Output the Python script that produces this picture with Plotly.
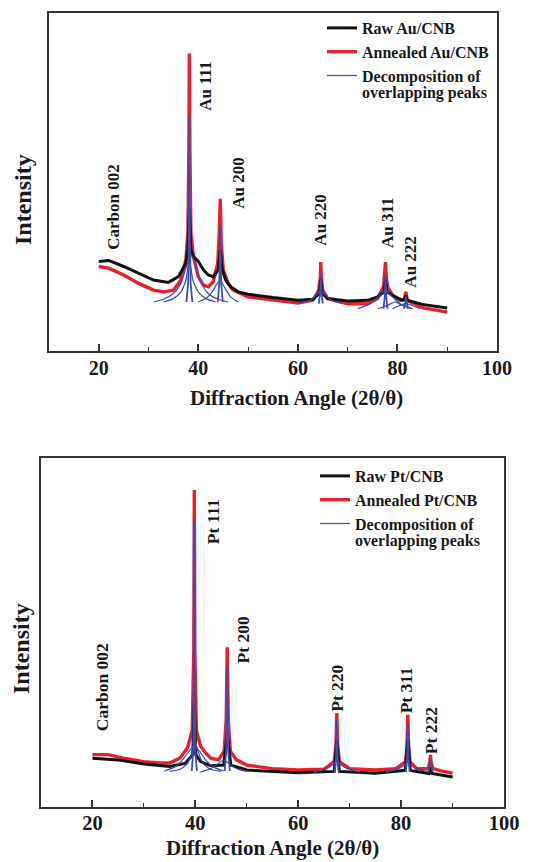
import plotly.graph_objects as go

# ---------------- Data: top panel (Au/CNB) ----------------
au_raw_x = [20, 22, 25, 28, 31, 34, 36, 37.5, 37.9, 38.2, 38.5, 39, 40, 41, 42, 43, 44, 44.4, 44.8,
            45.5, 46.5, 48, 50, 55, 60, 63, 64.3, 64.6, 64.9, 66, 70, 74, 76, 77.3, 77.6, 77.9, 79, 81,
            81.5, 81.7, 81.9, 82.5, 85, 90]
au_raw_y = [26.5, 26.8, 25, 23, 21, 20.3, 22, 26, 30, 42, 30, 28, 26.5, 24, 22.5, 22, 24, 30, 24,
            21, 19, 17.5, 16.8, 15.8, 15, 15.3, 17, 21, 17, 15.5, 14.8, 15, 16, 17.5, 21, 17.5, 16.5, 15,
            15.2, 16.5, 15.2, 14.8, 13.8, 12.7]

au_ann_x = [20, 22, 25, 28, 31, 33, 35, 36.5, 37.5, 37.9, 38.1, 38.2, 38.3, 38.5, 39, 40, 41, 42, 43,
            43.9, 44.2, 44.4, 44.6, 45, 46, 47, 50, 55, 60, 63, 64.2, 64.5, 64.6, 64.7, 65, 66, 70, 74,
            76, 77.2, 77.5, 77.6, 77.7, 78, 79, 80.5, 81.4, 81.6, 81.7, 81.8, 82, 85, 90]
au_ann_y = [25, 24.5, 22.5, 20, 18, 17.5, 18, 21, 27, 35, 60, 88, 60, 35, 28, 22, 19.5, 19, 20.5,
            26, 35, 45, 32, 24, 20, 18, 16, 15, 14.2, 15, 18, 22, 26.3, 22, 18, 15.5, 14, 14,
            15.5, 19, 23, 26.3, 23, 19, 16.5, 15, 15.5, 16.5, 17.5, 16.5, 15, 12.8, 11.5]

au_decomp_x = [
    [31, 33, 35, 36.5, 37.5, 38.5, 39.5, 40.5, 42, 44, 46],
    [33, 35, 36.5, 37.5, 38.2, 38.9, 40, 41.5, 43.5],
    [37.6, 37.95, 38.1, 38.2, 38.3, 38.45, 38.8],
    [40, 41.5, 42.8, 43.8, 44.4, 45.2, 46.5, 48],
    [43.9, 44.2, 44.35, 44.4, 44.45, 44.6, 44.9],
    [60, 62.5, 64, 64.6, 65.2, 66.7, 69],
    [64.2, 64.45, 64.6, 64.75, 65],
    [72, 74.5, 76.5, 77.6, 78.7, 80.5, 83],
    [77.2, 77.45, 77.6, 77.75, 78],
    [76, 78, 79.5, 81, 83],
    [79, 81.7, 84.5],
    [81.3, 81.55, 81.7, 81.85, 82.1],
]
au_decomp_y = [
    [14.5, 15.3, 17, 20, 24.5, 28.5, 25, 20.5, 17, 15.3, 14.5],
    [14.5, 15.5, 17.5, 21, 27, 21, 17.5, 15.5, 14.5],
    [14.5, 20, 35, 70, 35, 20, 14.5],
    [14.5, 15.5, 17.5, 20, 21, 19, 16, 14.5],
    [14.5, 20, 30, 37, 30, 20, 14.5],
    [14, 15, 17, 18, 17, 15, 14],
    [14, 17, 23, 17, 14],
    [12.5, 14, 16.5, 18, 16.5, 14, 12.5],
    [12.5, 16, 22.5, 16, 12.5],
    [12.5, 13.5, 14.5, 13.5, 12.5],
    [12.5, 14, 12.5],
    [12.5, 14, 16, 14, 12.5],
]

au_labels = ["Carbon 002", "Au 111", "Au 200", "Au 220", "Au 311", "Au 222"]
au_label_x = [22.8, 41.3, 47.9, 64.6, 78.0, 82.7]
au_label_y = [42.6, 78.4, 49.7, 38.8, 38.0, 26.4]

# ---------------- Data: bottom panel (Pt/CNB) ----------------
pt_raw_x = [20, 25, 30, 35, 38, 39.5, 39.8, 40.1, 41, 43, 45.5, 46.2, 46.9, 50, 60, 67, 67.5, 68,
            75, 80.8, 81.3, 81.8, 85.4, 85.7, 86, 90]
pt_raw_y = [14, 13.5, 12.3, 11.6, 12.5, 15, 30, 15, 13, 11.8, 12, 21, 12, 10.6, 9.8, 10.2, 19, 10.2,
            9.7, 10.5, 19, 10.5, 9.6, 12, 9.6, 8.6]

pt_ann_x = [20, 23, 26, 30, 33, 35, 37, 38.5, 39.4, 39.7, 39.8, 39.9, 40.2, 41, 42, 43, 44.5, 45.6,
            46.0, 46.2, 46.4, 46.8, 48, 50, 55, 60, 65, 67, 67.35, 67.5, 67.65, 68, 70, 75, 79,
            80.9, 81.15, 81.3, 81.45, 81.7, 83, 85.3, 85.6, 85.7, 85.8, 86.2, 88, 90]
pt_ann_y = [15, 15, 14, 13, 12.6, 12.6, 14, 17, 22, 45, 90.8, 45, 22, 17.5, 15.5, 14, 13.5, 16,
            25, 45.8, 25, 16, 13.5, 12, 11, 10.6, 10.8, 13, 18, 26.9, 18, 13, 11, 10.6, 11,
            13, 18, 26.4, 18, 13, 11, 11, 13, 14.9, 13, 11, 10.3, 9.7]

pt_decomp_x = [
    [34, 36, 37.5, 38.8, 39.8, 40.8, 42, 43.5, 45.5],
    [35, 37, 38.5, 39.5, 40, 40.5, 41.5, 43, 45],
    [39.3, 39.6, 39.75, 39.8, 39.85, 40.0, 40.3],
    [41, 43, 44.5, 45.5, 46.5, 48, 50],
    [45.7, 46.0, 46.15, 46.2, 46.25, 46.4, 46.7],
    [63, 65.5, 67, 67.5, 68, 69.5, 72],
    [67.1, 67.35, 67.5, 67.65, 67.9],
    [77, 79.5, 81, 81.3, 81.6, 83, 85.5],
    [80.9, 81.15, 81.3, 81.45, 81.7],
    [85.3, 85.55, 85.7, 85.85, 86.1],
]
pt_decomp_y = [
    [10.3, 11.5, 13.5, 16, 17.5, 16, 13.5, 11.5, 10.3],
    [10.2, 10.8, 12.5, 16, 18.5, 16, 12.5, 10.8, 10.2],
    [10.3, 16, 45, 82, 45, 16, 10.3],
    [10, 11, 12.5, 13.5, 12.5, 11, 10.2],
    [10.3, 16, 30, 40.7, 30, 16, 10.3],
    [10, 11, 12.5, 13.5, 12.5, 11, 10],
    [10, 14, 25, 14, 10],
    [10, 11, 12.5, 13, 12.5, 11, 10],
    [10, 14, 24, 14, 10],
    [10, 11.5, 13.5, 11.5, 10],
]

pt_labels = ["Carbon 002", "Pt 111", "Pt 200", "Pt 220", "Pt 311", "Pt 222"]
pt_label_x = [21.9, 43.5, 49.2, 67.5, 81.0, 85.8]
pt_label_y = [34.4, 81.7, 47.9, 34.1, 33.5, 22.0]

x_tick_vals = [20, 40, 60, 80, 100]
x_minor_vals = [30, 50, 70, 90]
x_title = "Diffraction Angle (2θ/θ)"
y_title = "Intensity"

# ---------------- Styles ----------------
FONT = "Liberation Serif"
RED = "#e8202a"
BLACK = "#111111"
BLUE = "#3a4db5"
FRAME = "#333333"
TXT = "#1a1a1a"
# The page body keeps its default 8 px margin, so the figure is drawn 8 px in
# from the window's top-left corner; size it to fill the rest of the window.
OFF = 8
W, H = 538 - OFF, 862 - OFF


def fx(px):
    """window pixel x -> paper fraction"""
    return (px - OFF) / W


def fy(py):
    """window pixel y -> paper fraction"""
    return 1 - (py - OFF) / H


fig = go.Figure()


def add_panel(xa, ya, legend, raw_x, raw_y, ann_x, ann_y, dx, dy, sample):
    fig.add_trace(go.Scatter(x=ann_x, y=ann_y, mode="lines", name=f"Annealed {sample}",
                             line=dict(color=RED, width=3.4), xaxis=xa, yaxis=ya,
                             legend=legend, legendrank=2))
    fig.add_trace(go.Scatter(x=raw_x, y=raw_y, mode="lines", name=f"Raw {sample}",
                             line=dict(color=BLACK, width=3.0), xaxis=xa, yaxis=ya,
                             legend=legend, legendrank=1))
    for i, (cx, cy) in enumerate(zip(dx, dy)):
        narrow = (max(cx) - min(cx)) < 2
        fig.add_trace(go.Scatter(x=cx, y=cy, mode="lines",
                                 name="Decomposition of",
                                 line=dict(color=BLUE, width=1.8 if narrow else 1.2,
                                           shape="linear" if narrow else "spline",
                                           smoothing=0.6),
                                 xaxis=xa, yaxis=ya, legend=legend, legendrank=3,
                                 legendgroup=f"dec{legend}", showlegend=(i == 0)))


add_panel("x", "y", "legend", au_raw_x, au_raw_y, au_ann_x, au_ann_y,
          au_decomp_x, au_decomp_y, "Au/CNB")
add_panel("x2", "y2", "legend2", pt_raw_x, pt_raw_y, pt_ann_x, pt_ann_y,
          pt_decomp_x, pt_decomp_y, "Pt/CNB")


def font(size):
    return dict(family=FONT, size=size, color=TXT, weight="bold")


annotations = []
for txt, lx, ly in zip(au_labels, au_label_x, au_label_y):
    annotations.append(dict(x=lx, y=ly, xref="x", yref="y", text=txt, showarrow=False,
                            textangle=-90, xanchor="center", yanchor="middle", font=font(17)))
for txt, lx, ly in zip(pt_labels, pt_label_x, pt_label_y):
    annotations.append(dict(x=lx, y=ly, xref="x2", yref="y2", text=txt, showarrow=False,
                            textangle=-90, xanchor="center", yanchor="middle",
                            font=font(17.5)))


def paper_text(px, py, text, size, angle=0, xanchor="center", yanchor="middle"):
    return dict(x=fx(px), y=fy(py), xref="paper", yref="paper", text=text,
                textangle=angle, showarrow=False, xanchor=xanchor, yanchor=yanchor,
                font=font(size))


# axis titles (placed like the reference, which is not centred on the axes)
annotations += [
    paper_text(23, 200, y_title, 24, angle=-90),
    paper_text(296, 398, x_title, 21),
    paper_text(21, 649, y_title, 24, angle=-90),
    paper_text(272, 862, x_title, 21, yanchor="bottom"),
]
# second line of the legend label for the decomposition curves
annotations += [
    paper_text(360, 93, "overlapping peaks", 16, xanchor="left"),
    paper_text(353, 541, "overlapping peaks", 16, xanchor="left"),
]


def xaxis_style(domain, anchor, tick_size, standoff):
    return dict(domain=domain, anchor=anchor, range=[10, 100], tickmode="array",
                tickvals=x_tick_vals, ticks="inside", ticklen=7, tickwidth=1.5, tickcolor=FRAME,
                minor=dict(tickmode="array", tickvals=x_minor_vals, ticks="inside", ticklen=4,
                           tickwidth=1.3, tickcolor=FRAME, showgrid=False),
                showline=True, linewidth=1.6, linecolor=FRAME, mirror=True,
                showgrid=False, zeroline=False, automargin=False, ticklabelstandoff=standoff,
                tickfont=font(tick_size))


def yaxis_style(domain, anchor):
    return dict(domain=domain, anchor=anchor, range=[0, 100], showticklabels=False,
                ticks="", showline=True, linewidth=1.6, linecolor=FRAME, mirror=True,
                showgrid=False, zeroline=False, automargin=False)


fig.update_layout(
    width=W, height=H,
    margin=dict(l=0, r=0, t=0, b=0, autoexpand=False),
    paper_bgcolor="white", plot_bgcolor="white",
    xaxis=xaxis_style([fx(49), fx(497)], "y", 20, -2),
    yaxis=yaxis_style([fy(351), fy(13)], "x"),
    xaxis2=xaxis_style([fx(41), fx(504)], "y2", 20.5, -3),
    yaxis2=yaxis_style([fy(807), fy(458)], "x2"),
    legend=dict(x=fx(322), y=fy(11), xanchor="left", yanchor="top",
                bgcolor="rgba(0,0,0,0)", font=font(16), tracegroupgap=0,
                traceorder="normal"),
    legend2=dict(x=fx(315), y=fy(459), xanchor="left", yanchor="top",
                 bgcolor="rgba(0,0,0,0)", font=font(16), tracegroupgap=0,
                 traceorder="normal"),
    annotations=annotations,
    showlegend=True,
)

fig.write_html("out.html")
